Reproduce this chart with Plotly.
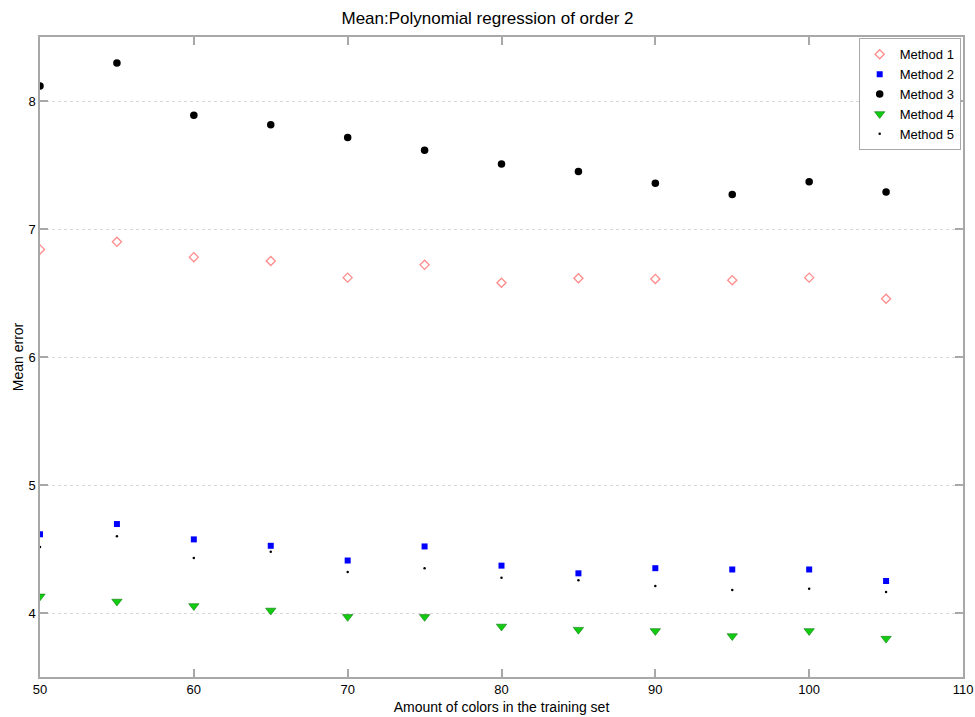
import plotly.graph_objects as go

x_vals = [50, 55, 60, 65, 70, 75, 80, 85, 90, 95, 100, 105]
method1 = [6.84, 6.90, 6.78, 6.75, 6.62, 6.72, 6.58, 6.615, 6.61, 6.60, 6.62, 6.455]
method2 = [4.615, 4.695, 4.575, 4.525, 4.41, 4.52, 4.37, 4.31, 4.35, 4.34, 4.34, 4.25]
method3 = [8.118, 8.296, 7.888, 7.814, 7.714, 7.615, 7.508, 7.45, 7.358, 7.27, 7.37, 7.29]
method4 = [4.13, 4.09, 4.055, 4.02, 3.97, 3.97, 3.895, 3.87, 3.86, 3.82, 3.86, 3.80]
method5 = [4.515, 4.60, 4.43, 4.478, 4.32, 4.35, 4.275, 4.255, 4.21, 4.18, 4.19, 4.165]

series = [
    ("Method 1", method1, dict(symbol="diamond-open", size=7, color="#ff8c8c", line=dict(width=1.3, color="#ff8c8c"))),
    ("Method 2", method2, dict(symbol="square", size=6, color="#0000ff", line=dict(width=0))),
    ("Method 3", method3, dict(symbol="circle", size=7.5, color="#000000", line=dict(width=0))),
    ("Method 4", method4, dict(symbol="triangle-down", size=9, color="#11cc11", line=dict(width=0.6, color="#117711"))),
    ("Method 5", method5, dict(symbol="circle", size=2.5, color="#000000", line=dict(width=0))),
]

fig = go.Figure()
for name, vals, mk in series:
    fig.add_trace(go.Scatter(x=x_vals, y=vals, mode="markers", name=name, marker=mk))

FONT = "Liberation Sans, Arial, sans-serif"
axis_common = dict(
    showline=True, linecolor="#a8a8a8", linewidth=1.5, mirror="ticks",
    ticks="inside", ticklen=8, tickcolor="#a8a8a8", tickwidth=1.5,
    zeroline=False, automargin=False,
    tickfont=dict(family=FONT, size=13, color="#000"),
)

fig.update_layout(
    width=975, height=717,
    paper_bgcolor="white", plot_bgcolor="white",
    margin=dict(l=40, r=12, t=37, b=40),
    title=dict(text="Mean:Polynomial regression of order 2", x=0.5, xanchor="center",
               y=1 - 18 / 717, yanchor="middle",
               font=dict(family=FONT, size=17, color="#000")),
    xaxis=dict(range=[50, 110], tickvals=[50, 60, 70, 80, 90, 100, 110], showgrid=False,
               title=dict(text="Amount of colors in the training set", standoff=6,
                          font=dict(family=FONT, size=14, color="#000")),
               **axis_common),
    yaxis=dict(range=[3.5, 8.5], tickvals=[4, 5, 6, 7, 8], showgrid=True, gridcolor="#d8d8d8",
               griddash="dot", gridwidth=1,
               title=dict(text="Mean error", standoff=2,
                          font=dict(family=FONT, size=14, color="#000")),
               **axis_common),
    legend=dict(x=0.9975, y=0.998, xanchor="right", yanchor="top",
                bordercolor="#a8a8a8", borderwidth=1, bgcolor="white",
                font=dict(family=FONT, size=13, color="#000"),
                tracegroupgap=0, itemsizing="trace"),
    showlegend=True,
)

fig.write_html("out.html")
